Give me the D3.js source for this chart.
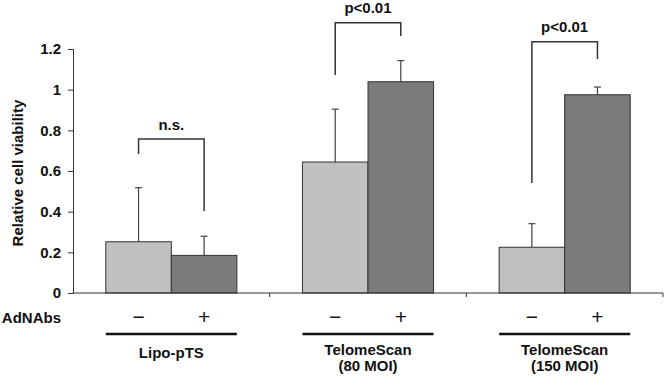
<!DOCTYPE html>
<html>
<head>
<meta charset="utf-8">
<script src="https://cdn.jsdelivr.net/npm/d3@7"></script>
<style>
  body { margin: 0; background: #fff; }
  text { font-family: "Liberation Sans", Arial, sans-serif; font-weight: bold; fill: #111; }
</style>
</head>
<body>
<div id="chart"></div>
<script>
// Dades
const groups = ["Lipo-pTS", "TelomeScan (80 MOI)", "TelomeScan (150 MOI)"];
const groupLines = [["Lipo-pTS"], ["TelomeScan", "(80 MOI)"], ["TelomeScan", "(150 MOI)"]];
const conditions = ["−", "+"];
const withoutAb = [0.252, 0.644, 0.225];
const withAb = [0.185, 1.039, 0.975];
const errWithout = [0.266, 0.26, 0.116];
const errWith = [0.094, 0.104, 0.038];
const yTicks = [0, 0.2, 0.4, 0.6, 0.8, 1, 1.2];
// claudàtors de significació: [top, extrem esquerre, extrem dret]
const sigLabels = ["n.s.", "p<0.01", "p<0.01"];
const bracketTop = [0.757, 1.329, 1.236];
const bracketLeft = [0.684, 1.072, 0.541];
const bracketRight = [0.403, 1.264, 1.151];

const width = 666, height = 379;
const margin = { top: 49, right: 3, bottom: 86, left: 73 };

const svg = d3.select("#chart").append("svg")
    .attr("width", width)
    .attr("height", height);

const y = d3.scaleLinear()
    .domain([0, 1.2])
    .range([height - margin.bottom, margin.top]);

const x0 = d3.scaleBand()
    .domain(groups)
    .range([margin.left, width - margin.right])
    .padding(0);

const x1 = d3.scaleBand()
    .domain(conditions)
    .range([0, x0.bandwidth()])
    .paddingInner(0)
    .paddingOuter(0.5);

const colors = { "−": "#c0c0c0", "+": "#7b7b7b" };

const rows = [];
groups.forEach((g, i) => {
    rows.push({ g, c: "−", v: withoutAb[i], e: errWithout[i] });
    rows.push({ g, c: "+", v: withAb[i], e: errWith[i] });
});

// Barres d'error (darrere de les barres)
const eb = svg.append("g").attr("stroke", "#444").attr("stroke-width", 1.2);
rows.forEach(d => {
    const cx = x0(d.g) + x1(d.c) + x1.bandwidth() / 2;
    eb.append("line").attr("x1", cx).attr("x2", cx).attr("y1", y(d.v)).attr("y2", y(d.v + d.e));
    eb.append("line").attr("x1", cx - 3.5).attr("x2", cx + 3.5).attr("y1", y(d.v + d.e)).attr("y2", y(d.v + d.e));
});

// Barres
svg.append("g").selectAll("rect")
    .data(rows)
    .enter().append("rect")
        .attr("x", d => x0(d.g) + x1(d.c))
        .attr("y", d => y(d.v))
        .attr("width", x1.bandwidth())
        .attr("height", d => y(0) - y(d.v))
        .attr("fill", d => colors[d.c])
        .attr("stroke", "#333")
        .attr("stroke-width", 1);

// Eix Y
const yAxis = svg.append("g")
    .attr("transform", `translate(${margin.left},0)`)
    .call(d3.axisLeft(y).tickValues(yTicks).tickSize(5).tickPadding(7)
        .tickFormat(d => String(+d.toFixed(1))));
yAxis.select(".domain").attr("stroke", "#333");
yAxis.selectAll(".tick line").attr("stroke", "#333");
yAxis.selectAll("text").style("font-size", "15px").style("font-family", "Liberation Sans, Arial, sans-serif")
    .style("font-weight", "bold").attr("fill", "#111");

// Eix X
const xAxis = svg.append("g").attr("stroke", "#333").attr("stroke-width", 1);
xAxis.append("line")
    .attr("x1", margin.left).attr("x2", width - margin.right)
    .attr("y1", y(0)).attr("y2", y(0));
groups.forEach(g => {
    const xr = x0(g) + x0.bandwidth();
    xAxis.append("line").attr("x1", xr).attr("x2", xr).attr("y1", y(0)).attr("y2", y(0) + 4);
});

// Títol eix Y
svg.append("text")
    .attr("transform", `translate(23,${(y(0) + y(1.2)) / 2 + 2}) rotate(-90)`)
    .attr("text-anchor", "middle")
    .style("font-size", "15px")
    .text("Relative cell viability");

// Claudàtors
const br = svg.append("g").attr("stroke", "#333").attr("stroke-width", 1.5).attr("fill", "none");
groups.forEach((g, i) => {
    const xl = x0(g) + x1("−") + x1.bandwidth() / 2;
    const xr = x0(g) + x1("+") + x1.bandwidth() / 2;
    br.append("path")
        .attr("d", `M${xl},${y(bracketLeft[i])}V${y(bracketTop[i])}H${xr}V${y(bracketRight[i])}`);
    svg.append("text")
        .attr("x", (xl + xr) / 2)
        .attr("y", y(bracketTop[i]) - 9.5)
        .attr("text-anchor", "middle")
        .style("font-size", "15px")
        .text(sigLabels[i]);
});

// Etiquetes inferiors
svg.append("text")
    .attr("x", 61)
    .attr("y", 323)
    .attr("text-anchor", "end")
    .style("font-size", "15px")
    .text("AdNAbs");

groups.forEach((g, i) => {
    conditions.forEach(c => {
        svg.append("text")
            .attr("x", x0(g) + x1(c) + x1.bandwidth() / 2)
            .attr("y", 324)
            .attr("text-anchor", "middle")
            .style("font-size", "21px")
            .style("font-weight", "normal")
            .text(c);
    });
    svg.append("line")
        .attr("x1", x0(g) + x1("−"))
        .attr("x2", x0(g) + x1("+") + x1.bandwidth())
        .attr("y1", 334).attr("y2", 334)
        .attr("stroke", "#111").attr("stroke-width", 2.5);
    const lines = groupLines[i];
    lines.forEach((t, k) => {
        svg.append("text")
            .attr("x", x0(g) + x0.bandwidth() / 2)
            .attr("y", (lines.length === 1 ? 358 : 355) + k * 16)
            .attr("text-anchor", "middle")
            .style("font-size", "15px")
            .text(t);
    });
});
</script>
</body>
</html>
